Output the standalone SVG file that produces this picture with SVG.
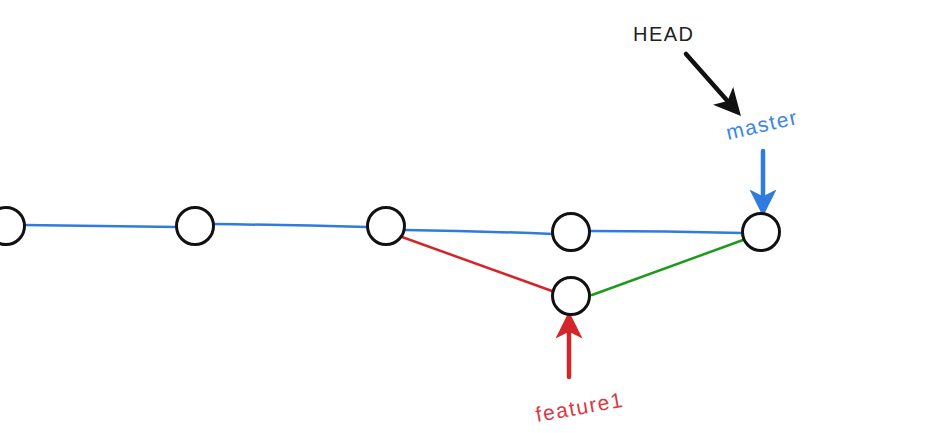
<svg xmlns="http://www.w3.org/2000/svg" width="942" height="433" viewBox="0 0 942 433">
<style>
.node{fill:#fff;stroke:#111;stroke-width:3}
.e{fill:none;stroke-width:2.5;stroke-linecap:round}
.blue{stroke:#2f7be0}
.red{stroke:#d2262b}
.green{stroke:#1d9b1d}
.lbl{font-family:"Liberation Sans",Arial,sans-serif}
</style>
<defs>
<marker id="ahK" markerWidth="6" markerHeight="6" refX="3" refY="3" orient="auto" markerUnits="strokeWidth"><path d="M0,0 L6,3 L0,6 L1.5,3 Z" fill="#111"/></marker>
<marker id="ahB" markerWidth="6" markerHeight="6" refX="3" refY="3" orient="auto" markerUnits="strokeWidth"><path d="M0,0 L6,3 L0,6 L1.5,3 Z" fill="#2f7be0"/></marker>
<marker id="ahR" markerWidth="6" markerHeight="6" refX="3" refY="3" orient="auto" markerUnits="strokeWidth"><path d="M0,0 L6,3 L0,6 L1.5,3 Z" fill="#d2262b"/></marker>
</defs>
<rect width="942" height="433" fill="#fff"/>
<g id="connectors">
<path class="e blue" d="M24,225 Q100,226 177,227"/>
<path class="e blue" d="M213,224 Q290,225 367,227"/>
<path class="e blue" d="M404,230 Q480,231 553,234"/>
<path class="e blue" d="M590,231 Q665,231 742,233"/>
<path class="e red" d="M402,237 L552,291"/>
<path class="e green" d="M592,295 L743,240"/>
<path fill="none" stroke="#111" stroke-width="4.5" stroke-linecap="round" marker-end="url(#ahK)" d="M686,54 L732,106"/>
<path fill="none" stroke="#2f7be0" stroke-width="4.5" stroke-linecap="round" marker-end="url(#ahB)" d="M763,151 L763,203"/>
<path fill="none" stroke="#d2262b" stroke-width="4.5" stroke-linecap="round" marker-end="url(#ahR)" d="M569,377 L569,325"/>
</g>
<g id="n1"><circle class="node" cx="6" cy="226" r="18.5"/></g>
<g id="n2"><circle class="node" cx="195" cy="226" r="18.5"/></g>
<g id="n3"><circle class="node" cx="386" cy="226" r="18.5"/></g>
<g id="n4"><circle class="node" cx="571" cy="232" r="18.5"/></g>
<g id="n5"><circle class="node" cx="571" cy="296" r="18.5"/></g>
<g id="n6"><circle class="node" cx="761" cy="232" r="18.5"/></g>
<g id="head"><text class="lbl" x="633" y="41" font-size="20" letter-spacing="1.5" fill="#222">HEAD</text></g>
<g id="master"><text class="lbl" x="0" y="0" font-size="21" letter-spacing="1.5" fill="#3a86e6" transform="translate(728,140) rotate(-13)">master</text></g>
<g id="feature1"><text class="lbl" x="0" y="0" font-size="21" letter-spacing="1.5" fill="#d83a44" transform="translate(537,422) rotate(-10)">feature1</text></g>
</svg>
